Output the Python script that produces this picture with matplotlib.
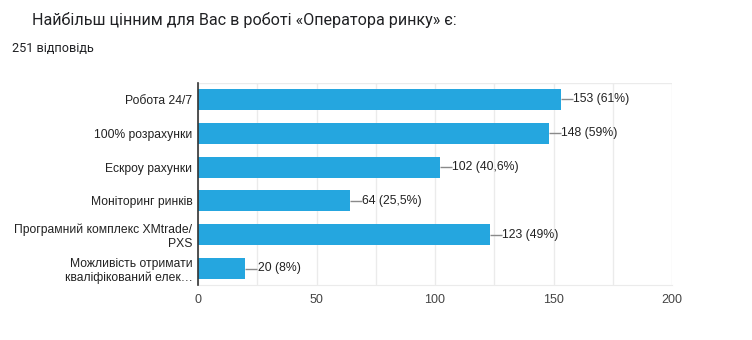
import matplotlib
matplotlib.use("Agg")
import matplotlib.pyplot as plt

# chart data
categories = [
    "Робота 24/7",
    "100% розрахунки",
    "Ескроу рахунки",
    "Моніторинг ринків",
    "Програмний комплекс XMtrade/\nPXS",
    "Можливість отримати\nкваліфікований елек…",
]
counts = [153, 148, 102, 64, 123, 20]
labels = ["153 (61%)", "148 (59%)", "102 (40,6%)", "64 (25,5%)", "123 (49%)", "20 (8%)"]
xticks = [0, 50, 100, 150, 200]

title = "Найбільш цінним для Вас в роботі «Оператора ринку» є:"
subtitle = "251 відповідь"

bar_color = "#25a6df"
text_color = "#222222"
base_font = ["Liberation Sans", "DejaVu Sans"]

fig = plt.figure(figsize=(7.52, 3.4), dpi=100)
ax = fig.add_axes([198 / 752, 54.6 / 340, 474 / 752, 202.8 / 340])

ypos = list(range(len(categories)))
ax.barh(ypos, counts, height=0.62, color=bar_color, zorder=3)
ax.set_ylim(len(categories) - 0.5, -0.5)
ax.set_xlim(0, 200)

# light grid every 25
for v in range(0, 201, 25):
    ax.axvline(v, color="#ebebeb", lw=1, zorder=1)

# value labels with short leader lines
for y, c, lab in zip(ypos, counts, labels):
    ax.plot([c, c + 5.1], [y, y], color="#8a8a8a", lw=1, zorder=4, solid_capstyle="butt")
    ax.text(c + 5.2, y, lab, va="center", ha="left", fontsize=8.85, color=text_color,
            family=base_font)

ax.set_yticks(ypos)
ax.set_yticklabels(categories, fontsize=8.75, color=text_color, family=base_font,
                   linespacing=1.2)
ax.set_xticks(xticks)
ax.set_xticklabels([str(t) for t in xticks], fontsize=9, color="#444444", family=base_font)
ax.tick_params(axis="y", length=0, pad=4)
ax.tick_params(axis="x", length=0, pad=6)

for side in ["top", "right"]:
    ax.spines[side].set_visible(False)
ax.spines["bottom"].set_color("#ebebeb")
ax.spines["left"].set_color("#333333")
ax.spines["left"].set_linewidth(1.2)
ax.spines["left"].set_zorder(5)
ax.axhline(-0.5, color="#ebebeb", lw=1, zorder=1)

fig.text(32 / 752, 1 - 20 / 340, title, fontsize=11.65, color="#202124",
         family=["Roboto", "DejaVu Sans"], va="center", ha="left")
fig.text(12 / 752, 1 - 49 / 340, subtitle, fontsize=9.1, color="#202124",
         family=["Roboto", "DejaVu Sans"], va="center", ha="left")

fig.savefig("out.png", dpi=100)
